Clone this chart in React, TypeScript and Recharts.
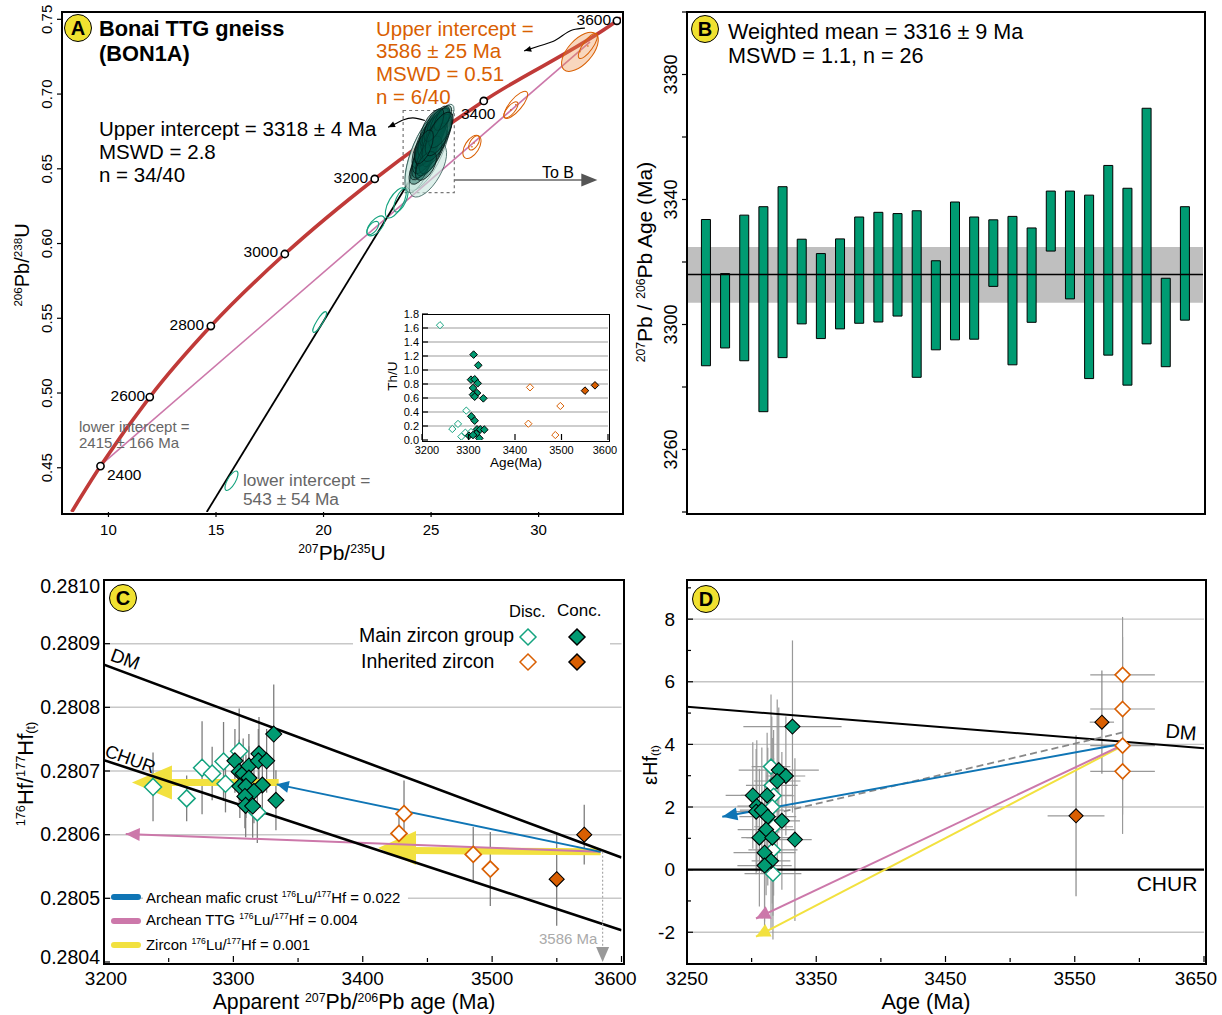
import React from 'react'
import { BarChart, Bar, ScatterChart, Scatter, XAxis, YAxis, CartesianGrid, ErrorBar, ReferenceArea, ReferenceLine } from 'recharts'

const FONT = '"Liberation Sans", Arial, sans-serif'
const TEAL = '#009b72'
const TEAL_OPEN = '#14a37f'
const ORANGE = '#d95f02'
const BLUE = '#0f75b5'
const PINK = '#cc78aa'
const YELLOW = '#f2e13f'
const RED = '#c03a38'

// --- panel A: concordia
const concordiaPath = [[8.29, 0.4204], [9.63, 0.4511], [11.92, 0.4973], [14.76, 0.5448], [18.2, 0.593], [22.38, 0.6432], [27.45, 0.6954], [33.64, 0.749], [33.83, 0.751]]
const concordiaAges = [[9.63, 0.4511], [11.92, 0.4973], [14.76, 0.5448], [18.2, 0.593], [22.38, 0.6432], [27.45, 0.6954], [33.64, 0.749]]
const discordiaInherited = [[9.64, 0.4518], [32.39, 0.7349]]
const discordiaMain = [[14.57, 0.4204], [25.87, 0.686]]
const toB = [[26.08, 0.6425], [32.4, 0.6425]]
const toBTip = [[32.73, 0.6425]]
const curveMain = [[23.0, 0.6778], [23.32, 0.68], [23.69, 0.6827], [24.15, 0.6841], [24.71, 0.6823]]
const curveMainTip = [[23.0, 0.6778]]
const curveInherited = [[29.33, 0.7289], [30.06, 0.7323], [30.66, 0.7351], [31.6, 0.743], [32.15, 0.7441]]
const curveInheritedTip = [[29.33, 0.7289]]

// x, y, half length, half width, tilt
const paleEllipses = [[24.85, 0.6627, 44, 15, -66], [24.6, 0.6594, 40, 12, -70], [24.85, 0.649, 30, 13, -60], [25.7, 0.686, 12, 6, -60]]
const clusterEllipses = [
  [24.48, 0.6506, 18, 8, -63], [24.57, 0.6546, 20, 8, -62], [24.67, 0.6573, 22, 9, -65], [24.62, 0.6627, 20, 8, -66],
  [24.76, 0.6613, 24, 9, -63], [24.85, 0.6653, 22, 8, -64], [24.94, 0.668, 26, 9, -62], [24.8, 0.6693, 24, 8, -65],
  [25.04, 0.672, 24, 10, -63], [25.13, 0.674, 22, 9, -62], [25.0, 0.6774, 20, 8, -64], [25.22, 0.6774, 22, 9, -60],
  [25.32, 0.68, 20, 8, -62], [25.41, 0.6814, 16, 7, -60], [25.18, 0.666, 24, 8, -64], [25.08, 0.6627, 26, 9, -65],
  [24.9, 0.6586, 22, 9, -62], [25.27, 0.6707, 26, 10, -63], [25.46, 0.676, 20, 8, -60], [24.76, 0.6519, 16, 8, -60],
  [25.55, 0.684, 14, 6, -60], [25.13, 0.6793, 18, 7, -65], [25.36, 0.6733, 24, 9, -63], [24.67, 0.6647, 18, 7, -68],
]
const greenEllipses = [[23.36, 0.6272, 17, 7, -60], [23.6, 0.6291, 13, 5, -65], [22.43, 0.6118, 12, 6, -50], [22.29, 0.6104, 8, 4, -50], [19.82, 0.5475, 12, 3, -58], [15.72, 0.4413, 11, 4, -60]]
const orangeEllipses = [[32.29, 0.7322, 15, 5, -55], [28.94, 0.6928, 17, 6, -50], [28.71, 0.6894, 10, 4, -50], [26.9, 0.6647, 13, 7, -58], [27.0, 0.6673, 8, 4, -58]]
const orangeBigEllipse = [[31.92, 0.7283, 24, 12, -48]]

// --- inset Th/U
const insetOpenMain = [[3238.7, 1.64], [3295.3, 0.42], [3277.4, 0.23], [3265.2, 0.157], [3293.2, 0.105], [3284.6, 0.048], [3305.4, 0.114]]
const insetMain = [[3311, 1.22], [3321, 1.067], [3305.4, 0.862], [3313.3, 0.867], [3319.7, 0.81], [3309.7, 0.743], [3318.3, 0.671], [3309.7, 0.648], [3313.3, 0.619], [3331.9, 0.595], [3306, 0.338], [3313.3, 0.276], [3318.3, 0.152], [3325.4, 0.152], [3334, 0.148], [3316.8, 0.09], [3301, 0.062], [3309.7, 0.071], [3323.3, 0.024]]
const insetOpenInherited = [[3432.3, 0.752], [3497.5, 0.486], [3428.7, 0.233], [3486.7, 0.071]]
const insetInherited = [[3550.5, 0.705], [3572, 0.781]]

// --- panel B: 207Pb/206Pb age bars, low and high
const ageLow = [3286.8, 3292.5, 3288.4, 3272.1, 3289.4, 3300.2, 3295.5, 3298.6, 3300.4, 3300.8, 3302.7, 3283.1, 3291.9, 3295.1, 3295.3, 3312.2, 3287.1, 3300.7, 3323.5, 3308.2, 3282.7, 3290.2, 3280.6, 3293.8, 3286.5, 3301.4]
const ageHigh = [3333.6, 3316.3, 3335, 3337.7, 3344.1, 3327.3, 3322.7, 3327.4, 3334.4, 3335.9, 3335.5, 3336.4, 3320.4, 3339.2, 3334.4, 3333.5, 3334.6, 3330.9, 3342.7, 3342.7, 3341.4, 3350.9, 3343.6, 3369.2, 3314.8, 3337.7]
const ageRows = ageLow.map((low, i) => ({ id: i + 1, range: [low, ageHigh[i]] }))
const meanAge = 3316
const meanBand = [3307, 3324.8]

// --- panel C: age, 176Hf/177Hf, error
const hfOpenMain = [[3237.9, 0.280675, 0.000054], [3263.9, 0.280657, 0.000036], [3275.8, 0.280705, 0.000073], [3283.6, 0.280696, 0.000042], [3292.4, 0.280715, 0.000062], [3293.9, 0.28068, 0.000045], [3304.5, 0.280731, 0.000067], [3318.5, 0.280635, 0.000048]]
const hfMain = [[3331.2, 0.280758, 0.000078], [3332.9, 0.280654, 0.000047], [3301.2, 0.280716, 0.00005], [3304.5, 0.280699, 0.00005], [3307.6, 0.280696, 0.000055], [3312, 0.280708, 0.00005], [3319.8, 0.280727, 0.000058], [3319.3, 0.280716, 0.00005], [3325.7, 0.280716, 0.00005], [3312, 0.280689, 0.00005], [3322.4, 0.280678, 0.00005], [3305, 0.280676, 0.00005], [3309.7, 0.280676, 0.00005], [3315.9, 0.280668, 0.00005], [3308.9, 0.28066, 0.00005], [3309.5, 0.280646, 0.00005], [3314.9, 0.280645, 0.00005]]
const hfOpenInherited = [[3431.9, 0.280633, 0.000052], [3428, 0.280602, 0.000038], [3485.4, 0.280569, 0.000043], [3498.6, 0.280546, 0.000058]]
const hfInherited = [[3549.9, 0.28053, 0.000073], [3571.2, 0.2806, 0.000047]]
const hfDM = [[3200, 0.280867], [3600, 0.280564]]
const hfCHUR = [[3200, 0.280717], [3600, 0.28045]]
const hfBlue = [[3583.9, 0.280573], [3333.5, 0.280679]]
const hfPink = [[3583.9, 0.280573], [3216.8, 0.280601]]
const hfYellowShaftA = [[3252, 0.280682], [3335, 0.280682]]
const hfYellowShaftB = [[3438, 0.280575], [3583.9, 0.280573]]
const hfDrop = [[3585.4, 0.280573], [3585.4, 0.28042]]

// --- panel D: age, epsilon Hf, x error, y error
const eOpenMain = [[3315, 3.29, 15, 2.3], [3315.6, 2.69, 20, 2.2], [3317, 2.36, 16, 2.1], [3316, 2, 18, 2.2], [3317, 1.37, 15, 2.2], [3316.5, 0.63, 19, 2.1], [3316.5, -0.13, 22, 2.1]]
const eMain = [[3331.6, 4.57, 38, 2.75], [3333.5, 0.96, 13, 2.6], [3300.9, 2.37, 21, 1.7], [3312, 2.37, 20, 2], [3321, 3.18, 31, 2], [3326.5, 2.99, 15, 1.9], [3319.8, 2.83, 18, 2.6], [3304, 2.03, 15, 2.1], [3303.5, 1.85, 18, 2], [3307.9, 1.9, 17, 2], [3312.5, 1.69, 22, 2.2], [3323.4, 1.56, 14, 2.2], [3311.2, 1.28, 22, 2.1], [3306, 1.02, 14, 2.2], [3316, 1.02, 20, 2.1], [3310, 0.54, 24, 2.2], [3315, 0.28, 15, 2.2], [3310, 0.13, 21, 2.2]]
const eOpenInherited = [[3587, 6.22, 25, 1.85], [3587, 5.13, 25, 2.3], [3587, 3.96, 25, 2.2], [3587, 3.14, 25, 2]]
const eInherited = [[3571, 4.71, 9.4, 1.65], [3551, 1.72, 22, 2.57]]
const eDM = [[3250, 5.2], [3650, 3.88]]
const eCHUR = [[3250, 0], [3650, 0]]
const eBlue = [[3587, 4.02], [3277.3, 1.69]]
const eDash = [[3587, 4.38], [3324, 1.85]]
const ePink = [[3587, 3.98], [3303.4, -1.56]]
const eYellow = [[3587, 3.95], [3303.4, -2.14]]

const xy = (pts: number[][]) => pts.map(([x, y]) => ({ x, y }))
const xye = (pts: number[][]) => pts.map(([x, y, e]) => ({ x, y, e }))
const xyee = (pts: number[][]) => pts.map(([x, y, ex, ey]) => ({ x, y, ex, ey }))
const ell = (pts: number[][]) => pts.map(([x, y, a, b, tilt]) => ({ x, y, a, b, tilt }))

const noMark = () => <g />

const diamond = (half: number, fill: string, stroke: string, sw: number) => (p: any) => (
  <polygon
    points={`${p.cx},${p.cy - half} ${p.cx + half},${p.cy} ${p.cx},${p.cy + half} ${p.cx - half},${p.cy}`}
    fill={fill}
    stroke={stroke}
    strokeWidth={sw}
  />
)

const ellipse = (fill: string, stroke: string, sw: number, dot = false) => (p: any) => (
  <g>
    <ellipse cx={p.cx} cy={p.cy} rx={p.a} ry={p.b} fill={fill} stroke={stroke} strokeWidth={sw} transform={`rotate(${p.tilt} ${p.cx} ${p.cy})`} />
    {dot && <circle cx={p.cx} cy={p.cy} r={0.8} fill={stroke} />}
  </g>
)

const head = (len: number, half: number, angle: number, fill: string) => (p: any) => (
  <polygon points={`0,0 ${-len},${-half} ${-len},${half}`} fill={fill} transform={`translate(${p.cx} ${p.cy}) rotate(${angle})`} />
)

const ring = (p: any) => <circle cx={p.cx} cy={p.cy} r={3.6} fill="#fff" stroke="#000" strokeWidth={1.6} />

const path = (key: string, pts: number[][], stroke: string, width: number, dash?: string, curved?: boolean) => (
  <Scatter
    key={key}
    data={xy(pts)}
    line={{ stroke, strokeWidth: width, strokeDasharray: dash }}
    lineJointType={curved ? 'monotoneX' : 'linear'}
    shape={noMark}
    isAnimationActive={false}
  />
)

const tip = (key: string, pts: number[][], shape: any) => <Scatter key={key} data={xy(pts)} shape={shape} isAnimationActive={false} />

const xTick = (labels: number[], opts: { inward?: boolean; size: number; dy: number; nudge?: Record<number, number> }) => (p: any) => {
  const v = p.payload.value
  const major = labels.includes(v)
  const end = opts.inward ? p.y - (major ? 6 : 4) : p.y + 5
  return (
    <g>
      <line x1={p.x} x2={p.x} y1={p.y} y2={end} stroke="#000" strokeWidth={1.2} />
      {major && (
        <text x={p.x + (opts.nudge?.[v] ?? 0)} y={p.y + opts.dy} textAnchor="middle" fontSize={opts.size} fontFamily={FONT} fill="#000">
          {v}
        </text>
      )}
    </g>
  )
}

const yTick = (labels: number[], opts: { inward?: boolean; rotated?: boolean; size: number; dx: number; digits?: number; nudge?: Record<number, number> }) => (p: any) => {
  const v = p.payload.value
  const major = labels.some((l) => Math.abs(l - v) < 1e-9)
  const end = opts.inward ? p.x + (major ? 6 : 4) : p.x - 5
  const txt = opts.digits !== undefined ? v.toFixed(opts.digits) : String(v)
  const ty = p.y + (opts.nudge?.[v] ?? 0)
  const lx = p.x - opts.dx
  return (
    <g>
      <line x1={p.x} x2={end} y1={p.y} y2={p.y} stroke="#000" strokeWidth={1.2} />
      {major &&
        (opts.rotated ? (
          <text x={lx} y={ty} textAnchor="middle" fontSize={opts.size} fontFamily={FONT} fill="#000" transform={`rotate(-90 ${lx} ${ty})`}>
            {txt}
          </text>
        ) : (
          <text x={lx} y={ty + opts.size * 0.35} textAnchor="end" fontSize={opts.size} fontFamily={FONT} fill="#000">
            {txt}
          </text>
        ))}
    </g>
  )
}

const Note = ({ x, y, size = 15, color = '#000', anchor = 'start', rotate = 0, bold = false, bg, children }: any) => (
  <div
    style={{
      position: 'absolute',
      left: x,
      top: y,
      fontSize: size,
      color,
      fontFamily: FONT,
      fontWeight: bold ? 700 : 400,
      whiteSpace: 'nowrap',
      lineHeight: 1.1,
      background: bg,
      transform: `translate(${anchor === 'middle' ? -50 : anchor === 'end' ? -100 : 0}%, -50%) rotate(${rotate}deg)`,
    }}
  >
    {children}
  </div>
)

const Sup = ({ children }: any) => <sup style={{ fontSize: '0.58em', verticalAlign: '0.62em', lineHeight: 0 }}>{children}</sup>
const Sub = ({ children }: any) => <sub style={{ fontSize: '0.58em', verticalAlign: '-0.2em', lineHeight: 0 }}>{children}</sub>

const Frame = ({ l, t, r, b, w = 2 }: any) => (
  <div style={{ position: 'absolute', left: l - w / 2, top: t - w / 2, width: r - l, height: b - t, border: `${w}px solid #000` }} />
)

const Badge = ({ x, y, letter }: any) => (
  <div
    style={{
      position: 'absolute',
      left: x - 14,
      top: y - 14,
      width: 26,
      height: 26,
      borderRadius: '50%',
      background: '#f0e130',
      border: '1px solid #000',
      fontFamily: FONT,
      fontWeight: 700,
      fontSize: 20,
      lineHeight: '26px',
      textAlign: 'center',
    }}
  >
    {letter}
  </div>
)

const Swatch = ({ y, color }: any) => (
  <div style={{ position: 'absolute', left: 111, top: y - 3, width: 30, height: 6, borderRadius: 3, background: color }} />
)

const LegendMark = ({ x, y, fill, stroke }: any) => (
  <svg style={{ position: 'absolute', left: x - 10, top: y - 10 }} width={20} height={20}>
    <polygon points="10,2 18,10 10,18 2,10" fill={fill} stroke={stroke} strokeWidth={1.5} />
  </svg>
)

const hold = (l: number, t: number, r: number, b: number, padL = 80, padB = 45) => ({
  wrap: { position: 'absolute' as const, left: l - padL, top: t - 10 },
  width: r - l + padL + 40,
  height: b - t + 10 + padB,
  margin: { top: 10, right: 40, left: 0, bottom: 0 },
  padL,
  padB,
})

const PanelA = () => {
  const h = hold(62, 12, 621, 512)
  return (
    <div style={h.wrap}>
      <ScatterChart width={h.width} height={h.height} margin={h.margin}>
        <XAxis type="number" dataKey="x" domain={[7.84, 33.83]} allowDataOverflow ticks={[10, 15, 20, 25, 30]} interval={0} height={h.padB} axisLine={false} tickLine={false} tickSize={0} tickMargin={0} tick={xTick([10, 15, 20, 25, 30], { size: 15, dy: 23 })} />
        <YAxis type="number" dataKey="y" domain={[0.4204, 0.7549]} allowDataOverflow ticks={[0.45, 0.5, 0.55, 0.6, 0.65, 0.7, 0.75]} interval={0} width={h.padL} axisLine={false} tickLine={false} tickSize={0} tickMargin={0} tick={yTick([0.45, 0.5, 0.55, 0.6, 0.65, 0.7, 0.75], { rotated: true, size: 15, dx: 10, digits: 2 })} />
        <ReferenceArea x1={23.7} x2={26.08} y1={0.6341} y2={0.689} fill="none" stroke="#777" strokeWidth={1.2} strokeDasharray="3 3" />
        {path('pink', discordiaInherited, PINK, 1.6)}
        {path('black', discordiaMain, '#000', 1.8)}
        {path('concordia', concordiaPath, RED, 3.6, undefined, true)}
        <Scatter data={ell(orangeBigEllipse)} shape={ellipse('rgba(236,140,70,0.35)', ORANGE, 1, true)} isAnimationActive={false} />
        <Scatter data={ell(orangeEllipses)} shape={ellipse('none', ORANGE, 1, true)} isAnimationActive={false} />
        <Scatter data={ell(greenEllipses)} shape={ellipse('none', TEAL_OPEN, 1.1)} isAnimationActive={false} />
        <Scatter data={ell(paleEllipses)} shape={ellipse('rgba(200,230,222,0.6)', '#2c5550', 0.7)} isAnimationActive={false} />
        <Scatter data={ell(clusterEllipses)} shape={ellipse('rgba(0,85,72,0.42)', '#041513', 0.7)} isAnimationActive={false} />
        <Scatter data={xy(concordiaAges)} shape={ring} isAnimationActive={false} />
        {path('toB', toB, '#666', 1.6)}
        {tip('toBTip', toBTip, head(16, 6.5, 0, '#555'))}
        {path('curveMain', curveMain, '#000', 1.1, undefined, true)}
        {tip('curveMainTip', curveMainTip, head(7, 3, 155, '#000'))}
        {path('curveInherited', curveInherited, '#000', 1.1, undefined, true)}
        {tip('curveInheritedTip', curveInheritedTip, head(7, 3, 163, '#000'))}
      </ScatterChart>
    </div>
  )
}

const Inset = () => {
  const h = hold(422, 314, 608, 440, 35, 30)
  const thTicks = [0, 0.2, 0.4, 0.6, 0.8, 1, 1.2, 1.4, 1.6, 1.8]
  return (
    <div style={h.wrap}>
      <ScatterChart width={h.width} height={h.height} margin={h.margin}>
        <CartesianGrid vertical={false} horizontalValues={[0.2, 0.4, 0.6, 0.8, 1, 1.2, 1.4, 1.6]} stroke="#bdbdbd" strokeWidth={1.3} />
        <XAxis type="number" dataKey="x" domain={[3200, 3600]} allowDataOverflow ticks={[3200, 3300, 3400, 3500, 3600]} interval={0} height={h.padB} axisLine={false} tickLine={false} tickSize={0} tickMargin={0} tick={xTick([3200, 3300, 3400, 3500, 3600], { inward: true, size: 11, dy: 14, nudge: { 3200: 5, 3600: -3 } })} />
        <YAxis type="number" dataKey="y" domain={[0, 1.8]} allowDataOverflow ticks={thTicks} interval={0} width={h.padL} axisLine={false} tickLine={false} tickSize={0} tickMargin={0} tick={yTick(thTicks, { inward: true, size: 11, dx: 3, digits: 1 })} />
        <Scatter data={xy(insetOpenMain)} shape={diamond(3.6, '#fff', TEAL_OPEN, 1)} isAnimationActive={false} />
        <Scatter data={xy(insetMain)} shape={diamond(3.8, TEAL, '#000', 1)} isAnimationActive={false} />
        <Scatter data={xy(insetOpenInherited)} shape={diamond(3.6, '#fff', ORANGE, 1)} isAnimationActive={false} />
        <Scatter data={xy(insetInherited)} shape={diamond(3.8, ORANGE, '#000', 1)} isAnimationActive={false} />
      </ScatterChart>
    </div>
  )
}

const PanelB = () => {
  const h = hold(687, 12, 1203, 512)
  const ticks = [3240, 3260, 3280, 3300, 3320, 3340, 3360, 3380, 3400]
  return (
    <div style={h.wrap}>
      <BarChart width={h.width} height={h.height} margin={h.margin} data={ageRows}>
        <ReferenceArea y1={meanBand[0]} y2={meanBand[1]} fill="#bfbfbf" fillOpacity={1} stroke="none" />
        <XAxis type="number" dataKey="id" domain={[0.008, 26.94]} allowDataOverflow height={h.padB} axisLine={false} tickLine={false} tick={false} />
        <YAxis type="number" domain={[3240, 3400]} allowDataOverflow ticks={ticks} interval={0} width={h.padL} axisLine={false} tickLine={false} tickSize={0} tickMargin={0} tick={yTick([3260, 3300, 3340, 3380], { rotated: true, size: 18, dx: 10 })} />
        <Bar dataKey="range" barSize={9} fill={TEAL} stroke="#000" strokeWidth={1} isAnimationActive={false} />
        <ReferenceLine y={meanAge} stroke="#000" strokeWidth={1.6} />
      </BarChart>
    </div>
  )
}

const PanelC = () => {
  const h = hold(104, 580, 621.5, 962)
  const yTicks = [0.2804, 0.2805, 0.2806, 0.2807, 0.2808, 0.2809, 0.281]
  return (
    <div style={h.wrap}>
      <ScatterChart width={h.width} height={h.height} margin={h.margin}>
        <CartesianGrid vertical={false} horizontalValues={[0.2805, 0.2806, 0.2807, 0.2808, 0.2809]} stroke="#c8c8c8" strokeWidth={1.5} />
        <XAxis type="number" dataKey="x" domain={[3200, 3600]} allowDataOverflow ticks={[3200, 3250, 3300, 3350, 3400, 3450, 3500, 3550, 3600]} interval={0} height={h.padB} axisLine={false} tickLine={false} tickSize={0} tickMargin={0} tick={xTick([3200, 3300, 3400, 3500, 3600], { inward: true, size: 19, dy: 23, nudge: { 3200: 2, 3600: -6 } })} />
        <YAxis type="number" dataKey="y" domain={[0.2804, 0.281]} allowDataOverflow ticks={yTicks} interval={0} width={h.padL} axisLine={false} tickLine={false} tickSize={0} tickMargin={0} tick={yTick(yTicks, { inward: true, size: 19.5, dx: 4, digits: 4, nudge: { 0.281: 6, 0.2804: -5 } })} />
        {path('yShaftA', hfYellowShaftA, YELLOW, 7)}
        {path('yShaftB', hfYellowShaftB, YELLOW, 7)}
        {tip('yHeadA', [[3221.6, 0.280682]], head(40, 17, 180, YELLOW))}
        {tip('yHeadB', [[3411.8, 0.280579]], head(38, 17, 180, YELLOW))}
        {path('pink', hfPink, PINK, 2)}
        {tip('pinkHead', [hfPink[1]], head(14, 6.5, -178, PINK))}
        {path('blue', hfBlue, BLUE, 2)}
        {tip('blueHead', [hfBlue[1]], head(12, 6, -168, BLUE))}
        {path('dm', hfDM, '#000', 2.6)}
        {path('chur', hfCHUR, '#000', 2.6)}
        {path('drop', hfDrop, '#aaa', 1.2, '2 2')}
        {tip('dropHead', [[3585.4, 0.2804]], head(15, 6.5, 90, '#999'))}
        <Scatter data={xye(hfOpenMain)} shape={noMark} isAnimationActive={false}><ErrorBar dataKey="e" direction="y" width={0} stroke="#7d7d7d" strokeWidth={1.3} /></Scatter>
        <Scatter data={xye(hfMain)} shape={noMark} isAnimationActive={false}><ErrorBar dataKey="e" direction="y" width={0} stroke="#7d7d7d" strokeWidth={1.3} /></Scatter>
        <Scatter data={xye(hfOpenInherited)} shape={noMark} isAnimationActive={false}><ErrorBar dataKey="e" direction="y" width={0} stroke="#7d7d7d" strokeWidth={1.3} /></Scatter>
        <Scatter data={xye(hfInherited)} shape={noMark} isAnimationActive={false}><ErrorBar dataKey="e" direction="y" width={0} stroke="#7d7d7d" strokeWidth={1.3} /></Scatter>
        <Scatter data={xye(hfOpenMain)} shape={diamond(8.5, '#fff', TEAL_OPEN, 1.5)} isAnimationActive={false} />
        <Scatter data={xye(hfMain)} shape={diamond(8, TEAL, '#000', 1.1)} isAnimationActive={false} />
        <Scatter data={xye(hfOpenInherited)} shape={diamond(8, '#fff', ORANGE, 1.7)} isAnimationActive={false} />
        <Scatter data={xye(hfInherited)} shape={diamond(7.5, ORANGE, '#000', 1.1)} isAnimationActive={false} />
      </ScatterChart>
    </div>
  )
}

const PanelD = () => {
  const h = hold(687, 580, 1204, 962)
  const yTicks = [-2, -1, 0, 1, 2, 3, 4, 5, 6, 7, 8, 9]
  const xTicks = [3250, 3300, 3350, 3400, 3450, 3500, 3550, 3600, 3650]
  return (
    <div style={h.wrap}>
      <ScatterChart width={h.width} height={h.height} margin={h.margin}>
        <CartesianGrid vertical={false} horizontalValues={[-2, 2, 4, 6, 8]} stroke="#c4c4c4" strokeWidth={1.4} />
        <XAxis type="number" dataKey="x" domain={[3250, 3650]} allowDataOverflow ticks={xTicks} interval={0} height={h.padB} axisLine={false} tickLine={false} tickSize={0} tickMargin={0} tick={xTick([3250, 3350, 3450, 3550, 3650], { inward: true, size: 19, dy: 23, nudge: { 3650: -8 } })} />
        <YAxis type="number" dataKey="y" domain={[-2.95, 9.25]} allowDataOverflow ticks={yTicks} interval={0} width={h.padL} axisLine={false} tickLine={false} tickSize={0} tickMargin={0} tick={yTick([-2, 0, 2, 4, 6, 8], { inward: true, size: 19, dx: 12 })} />
        {path('dm', eDM, '#000', 2)}
        {path('chur', eCHUR, '#000', 2.4)}
        <Scatter data={xyee(eOpenMain)} shape={noMark} isAnimationActive={false}>
          <ErrorBar dataKey="ex" direction="x" width={0} stroke="#999" strokeWidth={1.2} />
          <ErrorBar dataKey="ey" direction="y" width={0} stroke="#999" strokeWidth={1.2} />
        </Scatter>
        <Scatter data={xyee(eMain)} shape={noMark} isAnimationActive={false}>
          <ErrorBar dataKey="ex" direction="x" width={0} stroke="#999" strokeWidth={1.2} />
          <ErrorBar dataKey="ey" direction="y" width={0} stroke="#999" strokeWidth={1.2} />
        </Scatter>
        <Scatter data={xyee(eOpenInherited)} shape={noMark} isAnimationActive={false}>
          <ErrorBar dataKey="ex" direction="x" width={0} stroke="#999" strokeWidth={1.2} />
          <ErrorBar dataKey="ey" direction="y" width={0} stroke="#999" strokeWidth={1.2} />
        </Scatter>
        <Scatter data={xyee(eInherited)} shape={noMark} isAnimationActive={false}>
          <ErrorBar dataKey="ex" direction="x" width={0} stroke="#999" strokeWidth={1.2} />
          <ErrorBar dataKey="ey" direction="y" width={0} stroke="#888" strokeWidth={1.2} />
        </Scatter>
        {path('dash', eDash, '#888', 1.8, '7 4')}
        {path('yellow', eYellow, YELLOW, 2)}
        {tip('yellowHead', [eYellow[1]], head(14, 7, 152.6, YELLOW))}
        {path('pink', ePink, PINK, 2)}
        {tip('pinkHead', [ePink[1]], head(14, 7, 154.6, PINK))}
        {path('blue', eBlue, BLUE, 2)}
        {tip('blueHead', [eBlue[1]], head(15, 6.5, 169.5, BLUE))}
        <Scatter data={xyee(eOpenMain)} shape={diamond(7.5, '#fff', TEAL_OPEN, 1.5)} isAnimationActive={false} />
        <Scatter data={xyee(eMain)} shape={diamond(7.5, TEAL, '#000', 1.1)} isAnimationActive={false} />
        <Scatter data={xyee(eOpenInherited)} shape={diamond(7.5, '#fff', ORANGE, 1.6)} isAnimationActive={false} />
        <Scatter data={xyee(eInherited)} shape={diamond(7, ORANGE, '#000', 1.1)} isAnimationActive={false} />
      </ScatterChart>
    </div>
  )
}

export default function App() {
  return (
    <div style={{ position: 'absolute', left: 0, top: 0, width: 1222, height: 1015, background: '#fff', overflow: 'hidden' }}>
      {/* panel A */}
      <PanelA />
      <Frame l={62} t={12} r={621} b={512} />
      <Badge x={78} y={28} letter="A" />
      <Note x={99} y={29} size={21.8} bold>Bonai TTG gneiss</Note>
      <Note x={99} y={54} size={21.8} bold>(BON1A)</Note>
      <Note x={376} y={29} size={20.5} color={ORANGE}>Upper intercept =</Note>
      <Note x={376} y={51} size={20.5} color={ORANGE}>3586 ± 25 Ma</Note>
      <Note x={376} y={74} size={20.5} color={ORANGE}>MSWD = 0.51</Note>
      <Note x={376} y={97} size={20.5} color={ORANGE}>n = 6/40</Note>
      <Note x={99} y={129} size={20.5}>Upper intercept = 3318 ± 4 Ma</Note>
      <Note x={99} y={152} size={20.5}>MSWD = 2.8</Note>
      <Note x={99} y={175} size={20.5}>n = 34/40</Note>
      <Note x={542} y={173} size={16}>To B</Note>
      <Note x={107} y={475} size={15.5}>2400</Note>
      <Note x={145} y={396} size={15.5} anchor="end">2600</Note>
      <Note x={204} y={325} size={15.5} anchor="end">2800</Note>
      <Note x={278} y={252} size={15.5} anchor="end">3000</Note>
      <Note x={368} y={178} size={15.5} anchor="end">3200</Note>
      <Note x={461} y={114} size={15.5}>3400</Note>
      <Note x={611} y={20} size={15.5} anchor="end">3600</Note>
      <Note x={79} y={427} size={15} color="#666">lower intercept =</Note>
      <Note x={79} y={443} size={15} color="#666">2415 ± 166 Ma</Note>
      <Note x={243} y={481} size={17.3} color="#666">lower intercept =</Note>
      <Note x={243} y={500} size={17.3} color="#666">543 ± 54 Ma</Note>
      <Note x={342} y={553} size={21} anchor="middle"><Sup>207</Sup>Pb/<Sup>235</Sup>U</Note>
      <Note x={22} y={265} size={20} anchor="middle" rotate={-90}><Sup>206</Sup>Pb/<Sup>238</Sup>U</Note>
      <Inset />
      <Frame l={422} t={314} r={608} b={440} w={1} />
      <Note x={516} y={463} size={13.5} anchor="middle">Age(Ma)</Note>
      <Note x={393} y={376} size={13.5} anchor="middle" rotate={-90}>Th/U</Note>

      {/* panel B */}
      <PanelB />
      <Frame l={687} t={12} r={1203} b={512} />
      <Badge x={705} y={29} letter="B" />
      <Note x={728} y={32} size={21.6} >Weighted mean = 3316 ± 9 Ma</Note>
      <Note x={728} y={56} size={21.6}>MSWD = 1.1, n = 26</Note>
      <Note x={645} y={262} size={21} anchor="middle" rotate={-90}><Sup>207</Sup>Pb / <Sup>206</Sup>Pb Age (Ma)</Note>

      {/* panel C */}
      <PanelC />
      <Frame l={104} t={580} r={621.5} b={962} />
      <Badge x={123} y={598} letter="C" />
      <div style={{ position: 'absolute', left: 353, top: 625, width: 257, height: 50, background: '#fff' }} />
      <Note x={509} y={611} size={16.5}>Disc.</Note>
      <Note x={557} y={611} size={17}>Conc.</Note>
      <Note x={359} y={636} size={19.5}>Main zircon group</Note>
      <Note x={361} y={662} size={19.5}>Inherited zircon</Note>
      <LegendMark x={528} y={637} fill="#fff" stroke={TEAL_OPEN} />
      <LegendMark x={577} y={637} fill={TEAL} stroke="#000" />
      <LegendMark x={528} y={662} fill="#fff" stroke={ORANGE} />
      <LegendMark x={577} y={662} fill={ORANGE} stroke="#000" />
      <Note x={125} y={660} size={19} anchor="middle" rotate={20}>DM</Note>
      <Note x={130} y={760} size={18} anchor="middle" rotate={20}>CHUR</Note>
      <div style={{ position: 'absolute', left: 143, top: 888, width: 265, height: 20, background: '#fff' }} />
      <Swatch y={897} color={BLUE} />
      <Swatch y={921} color={PINK} />
      <Swatch y={945} color={YELLOW} />
      <Note x={146} y={898} size={14.9}>Archean mafic crust <Sup>176</Sup>Lu/<Sup>177</Sup>Hf = 0.022</Note>
      <Note x={146} y={920} size={14.9}>Archean TTG <Sup>176</Sup>Lu/<Sup>177</Sup>Hf = 0.004</Note>
      <Note x={146} y={945} size={14.9}>Zircon <Sup>176</Sup>Lu/<Sup>177</Sup>Hf = 0.001</Note>
      <Note x={539} y={939} size={15} color="#aaa">3586 Ma</Note>
      <Note x={354} y={1003} size={21.3} anchor="middle">Apparent <Sup>207</Sup>Pb/<Sup>206</Sup>Pb age (Ma)</Note>
      <Note x={26} y={774} size={22} anchor="middle" rotate={-90}><Sup>176</Sup>Hf/<Sup>177</Sup>Hf<Sub>(t)</Sub></Note>

      {/* panel D */}
      <PanelD />
      <Frame l={687} t={580} r={1204} b={962} />
      <Badge x={706} y={599} letter="D" />
      <Note x={1181} y={732} size={20} anchor="middle" rotate={5}>DM</Note>
      <Note x={1167} y={884} size={21} anchor="middle">CHUR</Note>
      <Note x={926} y={1002} size={21.7} anchor="middle">Age (Ma)</Note>
      <Note x={650} y={765} size={20} anchor="middle" rotate={-90}>εHf<Sub>(t)</Sub></Note>
    </div>
  )
}
